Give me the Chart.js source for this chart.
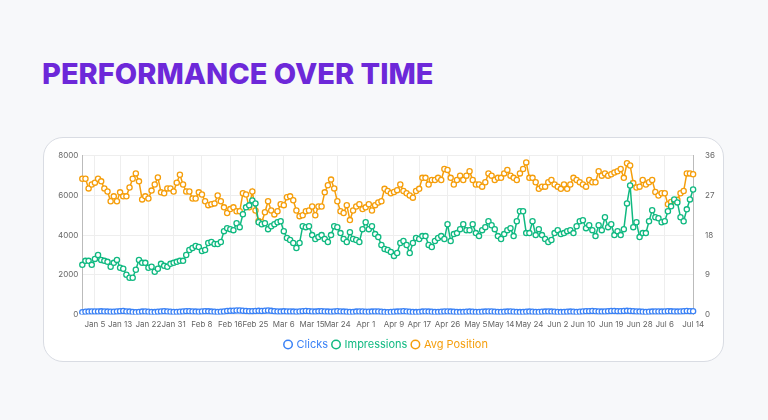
<!DOCTYPE html>
<html>
<head>
<meta charset="utf-8">
<script src="https://cdn.jsdelivr.net/npm/chart.js@4.4.0/dist/chart.umd.min.js"></script>
<style>
  body { margin: 0; background: #f7f8fa; font-family: Inter, sans-serif; width: 768px; height: 420px; overflow: hidden; }
  h1 { position: absolute; left: 42px; top: 56px; margin: 0; font-size: 29px; font-weight: 800; color: #6d28d9; letter-spacing: 0; }
  .card { position: absolute; left: 43px; top: 137px; width: 679px; height: 223px; background: #fff; border: 1.5px solid #d9dce3; border-radius: 20px; }
  .wrap { position: absolute; left: 10px; top: 9px; width: 665px; height: 213px; }
</style>
</head>
<body>
<h1>PERFORMANCE OVER TIME</h1>
<div class="card"><div class="wrap"><canvas id="perfChart"></canvas></div></div>
<script>
const impressions = [
  2500,2700,2700,2500,2800,3000,2750,2700,2650,2400,
  2600,2750,2350,2300,2000,1850,1850,2250,2750,2600,
  2600,2350,2400,2150,2300,2550,2450,2400,2550,
  2600,2650,2700,2700,3000,3250,3350,3450,3400,3200,
  3250,3600,3650,3550,3550,3650,4200,4350,4300,
  4250,4600,4400,5050,5400,5500,5750,5600,4650,4550,
  4600,4300,4450,4550,4650,4700,4200,3850,3750,3600,
  3350,3600,4450,4400,4450,4000,3800,3900,4000,
  3800,3650,4000,4450,4400,4100,3800,3650,4150,
  3800,3750,3650,4300,4650,4300,4450,
  4050,3900,3500,3300,3250,3150,2950,3100,3600,
  3700,3500,3100,3600,3850,3800,3950,
  3950,3500,3400,3700,3850,3950,3800,4550,3700,4050,
  4100,4300,4550,4250,4250,4550,4100,3950,4250,4400,
  4700,4500,4300,3950,3800,4050,4250,4350,3950,4700,
  5200,5200,4100,4100,4700,4000,4300,4000,3800,3650,
  3750,4100,4250,4050,4100,4200,4250,4100,4450,4700,
  4750,4350,4500,4250,3950,4500,4250,4900,4400,4550,
  4000,4200,4000,4300,5600,6500,4400,4650,3900,
  4100,4100,4700,5250,4900,4850,4650,4700,5200,5450,
  5800,5650,4900,4700,5300,5800,6300
];

const avgPosition = [
  30.8,30.8,28.6,29.5,29.9,30.8,30.2,28.6,27.9,25.7,
  26.8,25.7,27.7,26.8,26.8,28.8,30.8,32.0,30.2,26.1,
  26.8,26.3,28.1,29.5,31.1,27.7,27.5,28.6,28.6,27.9,
  29.9,31.7,29.5,27.9,27.9,26.3,26.3,27.7,27.2,25.7,
  24.8,25.0,25.2,27.0,25.7,24.3,23.0,23.9,24.3,23.4,
  23.4,27.5,27.2,24.3,27.9,23.6,21.2,20.9,23.2,25.7,
  23.6,22.7,23.4,25.0,24.8,26.6,26.8,25.9,23.6,22.3,
  22.5,23.4,23.6,24.5,22.5,24.5,24.5,27.7,29.3,30.6,
  28.6,25.7,23.4,23.0,24.8,21.4,23.6,24.5,25.0,23.9,
  24.3,25.0,23.6,24.8,25.4,25.7,
  28.5,28,27.5,27.8,28.2,29.5,
  28,27.5,27,26.5,28,28.5,31,31,29.5,30.5,
  30.5,31,30.5,33,32.8,31,29.5,30.5,31.5,30.5,
  31.5,32.5,30.5,29.5,29.5,29,30,32,31.5,
  30.5,31,31,32,32.8,31.5,31,30.5,32,
  33,34.5,31,31,30,28.5,29,29,30,30.5,
  29.5,29,28.5,29.5,28.5,29.5,31,30.5,30,29.5,
  29,30.5,30,30,32.5,31.5,32,31.5,
  31.8,32.2,32.5,33,31,34.3,33.8,29.8,28.8,29,
  30.5,29.5,30,30.5,27.8,27,27.5,27.5,25,25.5,
  25.8,26,27.5,28,32,32,31.8
];

const clicks = [
  110,130,140,150,145,150,155,150,140,135,130,150,160,170,150,140,120,110,125,140,
  150,130,120,115,130,150,160,145,130,120,125,135,150,165,160,150,140,130,150,160,
  155,140,130,120,135,150,170,180,190,200,195,185,170,160,165,175,180,170,185,200,
  180,160,150,140,155,150,145,140,130,150,165,170,160,150,140,155,160,150,140,135,
  150,160,150,140,130,120,125,140,150,145,135,130,140,150,145,130,120,110,120,130,
  140,150,160,145,130,120,115,125,140,150,140,130,120,125,135,145,150,140,130,120,
  115,125,135,140,130,125,120,130,140,150,145,135,125,120,130,140,145,135,125,115,
  120,130,140,135,125,120,130,140,145,140,130,120,115,125,135,140,130,120,130,150,
  160,165,170,160,150,140,150,160,170,175,165,160,170,180,175,165,150,140,130,120,
  130,140,150,145,140,150,160,155,145,140,150,160,170,165,160
];

// the dates printed under the axis in the reference
const tickLabels = ['Jan 5','Jan 13','Jan 22','Jan 31','Feb 8','Feb 16','Feb 25','Mar 6',
  'Mar 15','Mar 24','Apr 1','Apr 9','Apr 17','Apr 26','May 5','May 14','May 24','Jun 2',
  'Jun 10','Jun 19','Jun 28','Jul 6','Jul 14'];

const dayLabels = [];
const months = ['Jan','Feb','Mar','Apr','May','Jun','Jul'];
for (let i = 0; i < impressions.length; i++) {
  const d = new Date(2024, 0, 2 + i);
  dayLabels.push(months[d.getMonth()] + ' ' + d.getDate());
}
// index of each printed tick along the category axis
const tickStep = (impressions.length - 1 - 3.5) / (tickLabels.length - 1);
const tickAt = {};
tickLabels.forEach(function(t, k) { tickAt[Math.round(3.5 + k * tickStep)] = t; });

const leftTicks = [0, 2000, 4000, 6000, 8000];
const rightTicks = [0, 9, 18, 27, 36];

function makeSet(label, data, color, axis) {
  return {
    label: label, data: data, yAxisID: axis,
    borderColor: color, backgroundColor: '#ffffff',
    pointBackgroundColor: '#ffffff', pointBorderColor: color,
    pointRadius: 2.6, pointBorderWidth: 1.3, borderWidth: 1.5, tension: 0
  };
}

const ctx = document.getElementById('perfChart').getContext('2d');
new Chart(ctx, {
  type: 'line',
  data: {
    labels: dayLabels,
    datasets: [
      makeSet('Clicks', clicks, '#3b82f6', 'y'),
      makeSet('Impressions', impressions, '#10b981', 'y'),
      makeSet('Avg Position', avgPosition, '#f59e0b', 'y1')
    ]
  },
  options: {
    responsive: true, maintainAspectRatio: false, animation: false,
    plugins: {
      legend: {
        position: 'bottom',
        labels: {
          usePointStyle: true, pointStyle: 'circle', boxWidth: 6, boxHeight: 6, padding: 5,
          font: { family: 'Inter', size: 11 },
          generateLabels: function(chart) {
            return chart.data.datasets.map(function(ds, i) {
              return {
                text: ds.label, fillStyle: '#fff', strokeStyle: ds.borderColor,
                lineWidth: 1.5, pointStyle: 'circle', fontColor: ds.borderColor, datasetIndex: i
              };
            });
          }
        }
      }
    },
    scales: {
      x: {
        grid: {
          drawTicks: false,
          color: function(c) { return tickAt[c.index] ? '#eeeeee' : 'rgba(0,0,0,0)'; }
        },
        border: { display: false },
        ticks: {
          color: '#666', font: { family: 'Inter', size: 8 }, maxRotation: 0, autoSkip: false, padding: 5,
          callback: function(v, i) { return tickAt[i] || ''; }
        }
      },
      y: {
        position: 'left', min: 0, max: 8000,
        grid: { color: '#eeeeee', drawTicks: false },
        border: { color: '#bbbbbb' },
        afterBuildTicks: function(axis) { axis.ticks = leftTicks.map(v => ({ value: v })); },
        ticks: { color: '#666', font: { family: 'Inter', size: 8 }, padding: 4, callback: v => String(v) }
      },
      y1: {
        position: 'right', min: 0, max: 36,
        grid: { display: false },
        border: { color: '#bbbbbb' },
        afterBuildTicks: function(axis) { axis.ticks = rightTicks.map(v => ({ value: v })); },
        ticks: { color: '#666', font: { family: 'Inter', size: 8 }, padding: 4 }
      }
    }
  }
});
</script>
</body>
</html>
